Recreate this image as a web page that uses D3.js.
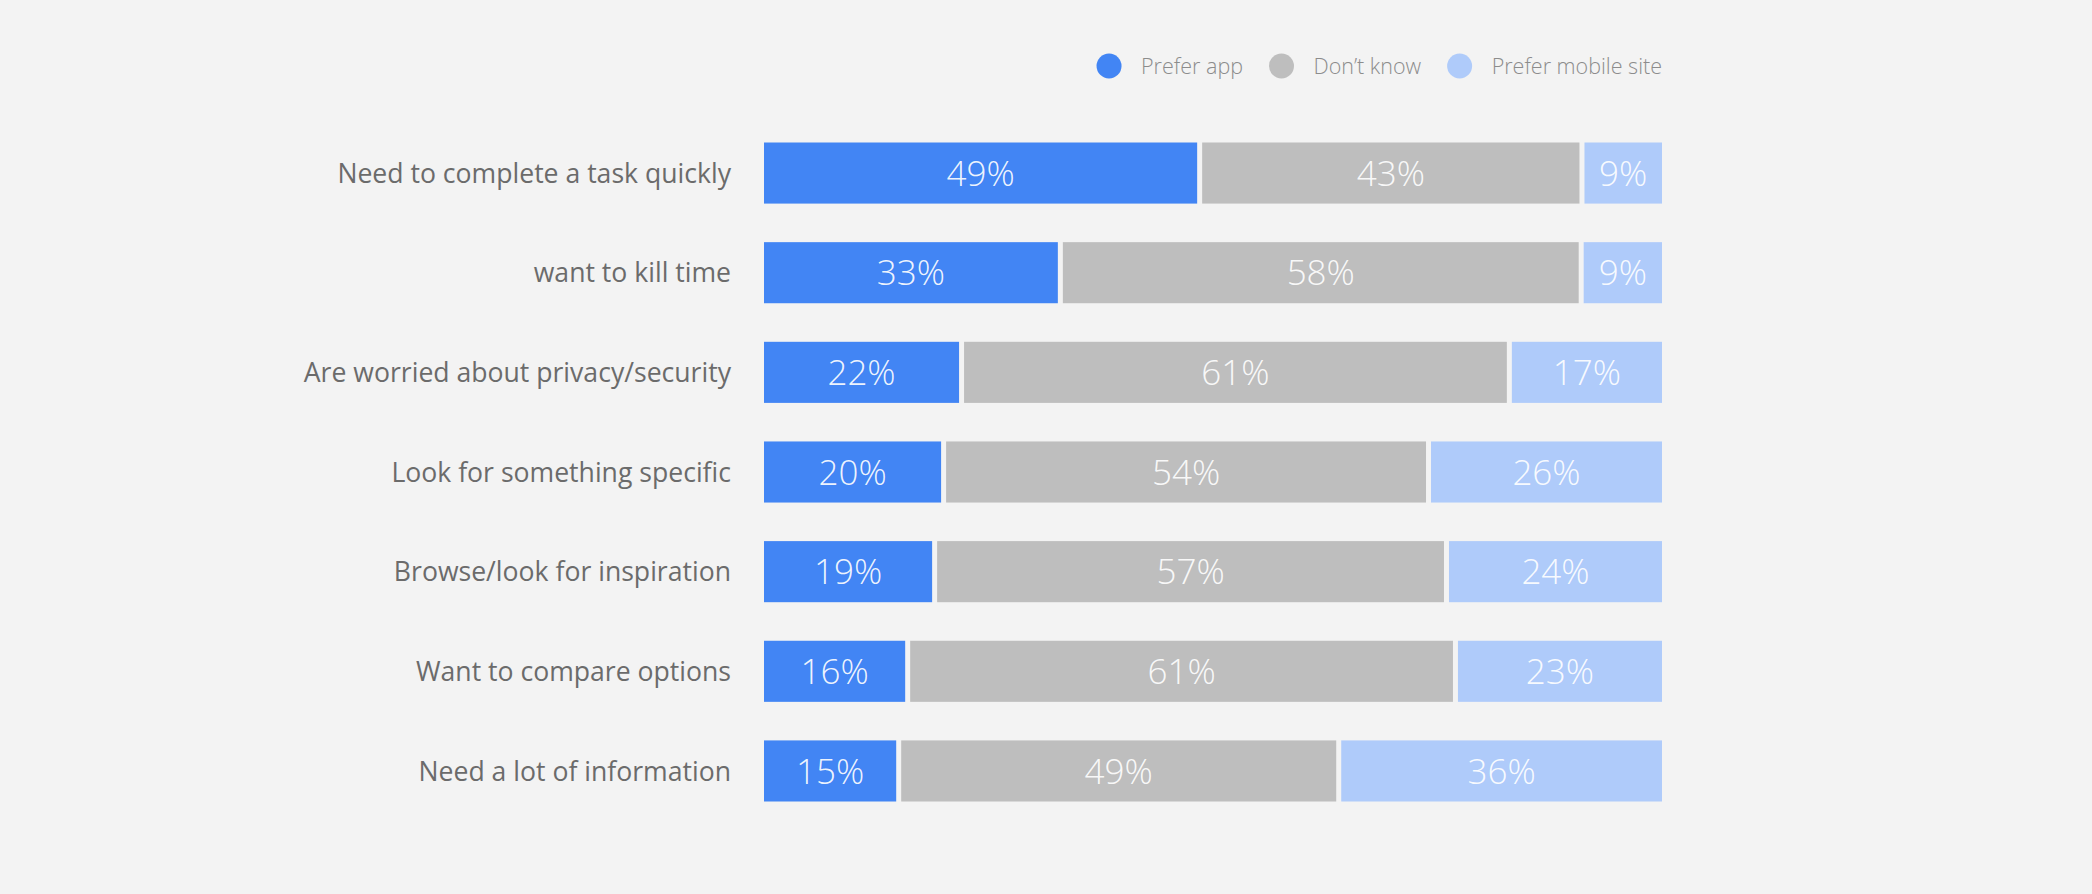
<!DOCTYPE html>
<html>
<head>
<meta charset="utf-8">
<script src="https://cdn.jsdelivr.net/npm/d3@7"></script>
<style>
  html, body { margin: 0; padding: 0; background: #f3f3f3; }
  svg { display: block; font-family: "Open Sans", "Noto Sans", sans-serif; }
</style>
</head>
<body>
<svg id="chart" width="2092" height="894"></svg>
<script>
// Reasons people give, one bar per reason
const categories = [
  "Need to complete a task quickly",
  "want to kill time",
  "Are worried about privacy/security",
  "Look for something specific",
  "Browse/look for inspiration",
  "Want to compare options",
  "Need a lot of information"
];

// Share of respondents (%) per answer
const preferApp        = [49, 33, 22, 20, 19, 16, 15];
const dontKnow         = [43, 58, 61, 54, 57, 61, 49];
const preferMobileSite = [9, 9, 17, 26, 24, 23, 36];

const seriesNames  = ["Prefer app", "Don\u2019t know", "Prefer mobile site"];
const seriesKeys   = ["app", "unknown", "mobile"];
const seriesColors = ["#4285f4", "#bebebe", "#afcbfa"];

const rows = categories.map((c, i) => ({
  category: c,
  app: preferApp[i],
  unknown: dontKnow[i],
  mobile: preferMobileSite[i]
}));

const svg = d3.select("#chart");
const W = 2092, H = 894;
svg.append("rect").attr("width", W).attr("height", H).attr("fill", "#f3f3f3");

const plot = { left: 764, right: 1662, top: 142.5, bottom: 801.5 };
const gap = 5;

// Each row is normalised to its own total so every bar spans the full width
const stacked = d3.stack().keys(seriesKeys).offset(d3.stackOffsetExpand)(rows);

const x = d3.scaleLinear().domain([0, 1]).range([plot.left, plot.right]);
const y = d3.scaleBand().domain(categories)
  .range([plot.top, plot.bottom])
  .paddingInner(0.387).paddingOuter(0);

const color = d3.scaleOrdinal().domain(seriesKeys).range(seriesColors);

const layers = svg.append("g").selectAll("g")
  .data(stacked)
  .join("g")
  .attr("fill", d => color(d.key));

layers.each(function(layer, li) {
  const g = d3.select(this);
  const last = li === stacked.length - 1;
  const left = s => x(s.d[0]) + (li === 0 ? 0 : gap / 2);
  const right = s => x(s.d[1]) - (last ? 0 : gap / 2);
  const segs = g.selectAll("g.seg")
    .data(layer.map((d, i) => ({ d, i, key: layer.key })))
    .join("g").attr("class", "seg");

  segs.append("rect")
    .attr("x", left)
    .attr("y", s => y(s.d.data.category))
    .attr("height", y.bandwidth())
    .attr("width", s => Math.max(0, right(s) - left(s)));

  segs.append("text")
    .attr("x", s => (left(s) + right(s)) / 2)
    .attr("y", s => y(s.d.data.category) + y.bandwidth() / 2)
    .attr("dy", "0.36em")
    .attr("text-anchor", "middle")
    .attr("fill", "#ffffff")
    .attr("fill-opacity", 0.92)
    .attr("font-size", 35)
    .attr("font-weight", 300)
    .text(s => s.d.data[s.key] + "%");
});

// Category labels, right-aligned against the bars
svg.append("g").selectAll("text")
  .data(categories)
  .join("text")
  .attr("x", plot.left - 33)
  .attr("y", d => y(d) + y.bandwidth() / 2)
  .attr("dy", "0.36em")
  .attr("text-anchor", "end")
  .attr("fill", "#6b6b6b")
  .attr("font-size", 26.6)
  .text(d => d);

// Legend, laid out from the right edge leftwards
const legend = svg.append("g");
const r = 12.5, textOffset = 32, itemGap = 26, legendY = 66;
let cursor = plot.right;
for (let i = seriesNames.length - 1; i >= 0; i--) {
  const t = legend.append("text")
    .attr("y", legendY)
    .attr("dy", "0.36em")
    .attr("fill", "#8c8c8c")
    .attr("font-size", 21.5)
    .attr("font-weight", 300)
    .text(seriesNames[i]);
  const w = t.node().getComputedTextLength();
  t.attr("x", cursor - w);
  const cx = cursor - w - textOffset;
  legend.append("circle")
    .attr("cx", cx).attr("cy", legendY).attr("r", r)
    .attr("fill", seriesColors[i]);
  cursor = cx - r - itemGap;
}
</script>
</body>
</html>
